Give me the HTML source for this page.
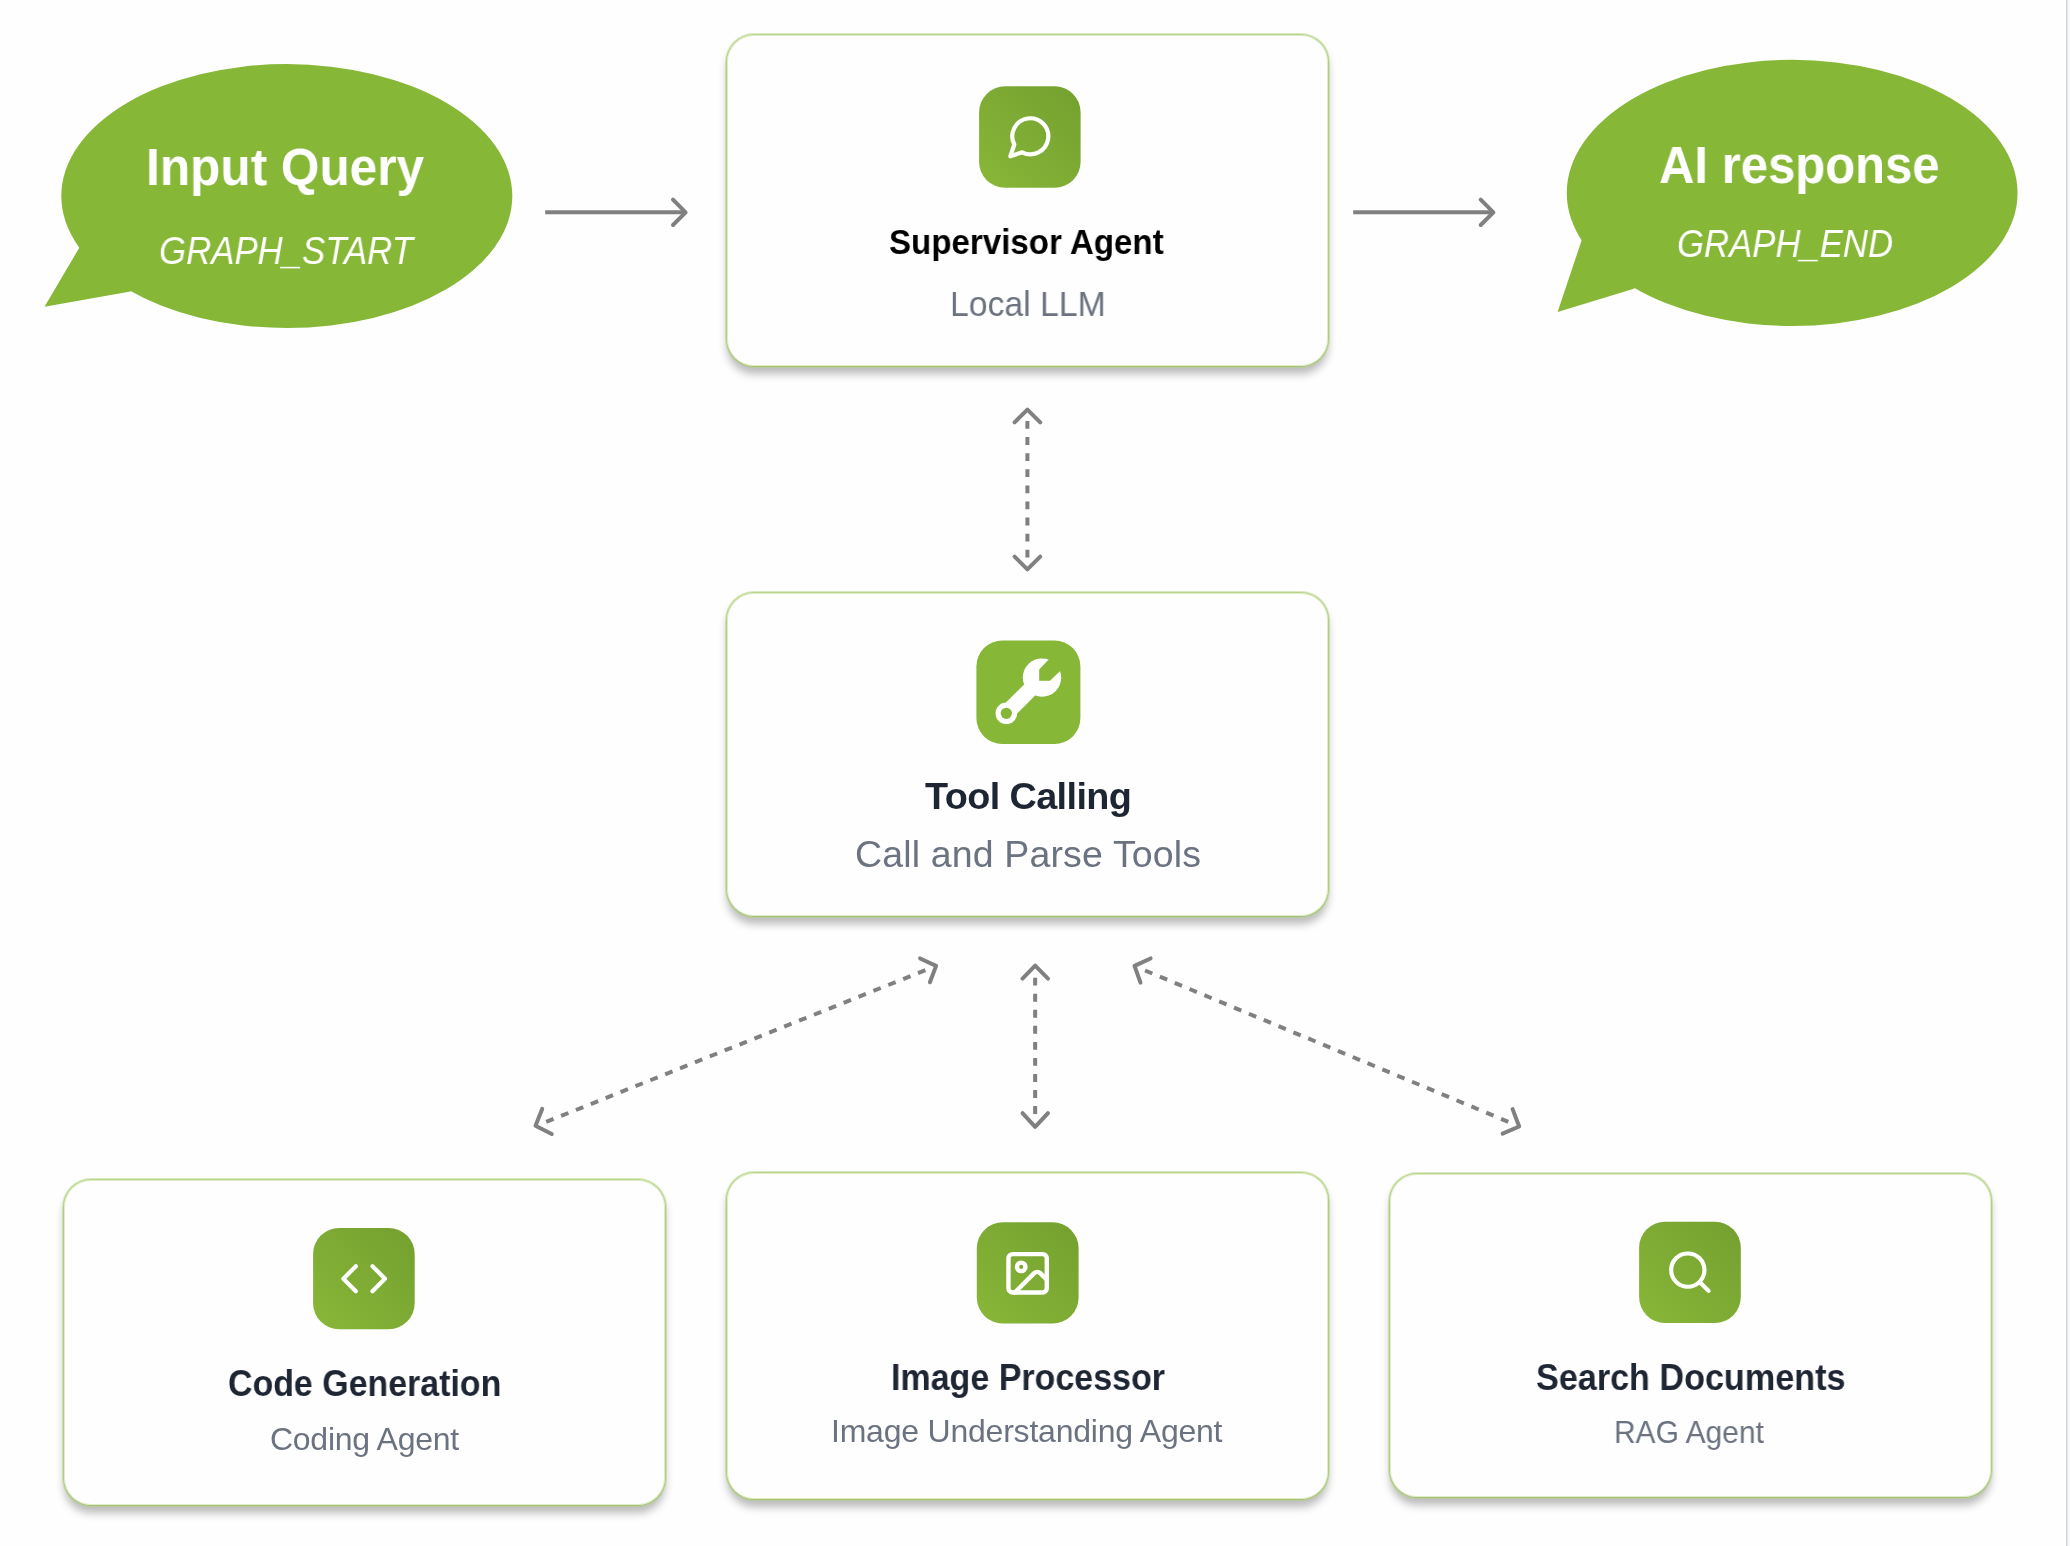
<!DOCTYPE html>
<html><head><meta charset="utf-8">
<style>
html,body{margin:0;padding:0;}
body{width:2070px;height:1546px;position:relative;overflow:hidden;background:#fefefe;font-family:"Liberation Sans",sans-serif;}
.card{position:absolute;box-sizing:border-box;background:#fefefe;background-clip:padding-box;border:1px solid rgba(120,180,40,0.35);border-radius:28px;box-shadow:0 0 0 1px rgba(186,214,132,0.5),inset 0 0 0 1px rgba(186,214,132,0.45);}
.card::before{content:"";position:absolute;left:0;top:0;right:0;bottom:0;border-radius:27px;box-shadow:0 7.5px 8px rgba(0,0,0,0.27);z-index:-1;}
.t{position:absolute;white-space:nowrap;line-height:1;will-change:transform;}
.title{font-weight:bold;color:#1e2533;}
.sub{color:#6b7280;}
svg{position:absolute;left:0;top:0;}
#edge{position:absolute;left:2066px;top:0;width:1px;height:1546px;background:#d3d4d1;}
#edge2{position:absolute;left:2067px;top:0;width:3px;height:1546px;background:#f8f9fb;box-shadow:inset 1px 0 0 #e5e6e6;}
</style></head>
<body>
<svg width="2070" height="1546" viewBox="0 0 2070 1546">
  <path fill="#86b737" fill-rule="nonzero" d="M61.30 196.05 A225.5 131.95 0 1 0 512.30 196.05 A225.5 131.95 0 1 0 61.30 196.05 Z M79.3 247.7 L44.5 306.8 L130.4 291.5 L160 250 Z"/>
  <path fill="#86b737" fill-rule="nonzero" d="M1566.75 192.90 A225.4 133.07 0 1 0 2017.55 192.90 A225.4 133.07 0 1 0 1566.75 192.90 Z M1581.6 240.4 L1557.6 312.1 L1633.8 288.7 L1660 250 Z"/>
  <g stroke="#808080" stroke-width="4" fill="none" stroke-linecap="round" stroke-linejoin="round">
    <line x1="545.2" y1="212.3" x2="685" y2="212.3" stroke-linecap="butt"/>
    <polyline points="673,199.6 685.6,212.3 673,225"/>
    <line x1="1353.2" y1="212.3" x2="1493" y2="212.3" stroke-linecap="butt"/>
    <polyline points="1480.7,199.6 1493.4,212.3 1480.7,225"/>
  </g>
  <g stroke="#808080" stroke-width="4" fill="none" stroke-linecap="round" stroke-linejoin="round">
    <path d="M1027.4 421 V558" stroke-dasharray="7.8 8.3" stroke-linecap="butt"/>
    <polyline points="1014.6,422.3 1027.4,409.6 1040.2,422.3"/>
    <polyline points="1014.6,556.6 1027.4,569.4 1040.2,556.6"/>
    <path d="M1035.15 977.7 V1114.4" stroke-dasharray="7.9 8.15" stroke-linecap="butt"/>
    <polyline points="1022.5,978.6 1035.15,965.7 1048,978.6"/>
    <polyline points="1022.5,1113.1 1035.15,1126.8 1048,1113.1"/>
    <path d="M546.2 1121.9 L925.5 970.1" stroke-dasharray="7.9 8.12" stroke-linecap="butt"/>
    <polyline points="920.1,958.45 936.1,965.9 929.9,982.3"/>
    <polyline points="542.2,1108.9 535.5,1125.8 551.7,1134"/>
    <path d="M1145.05 970.48 L1508.25 1121.8" stroke-dasharray="7.9 8.17" stroke-linecap="butt"/>
    <polyline points="1150.6,958.45 1134.5,965.9 1140.5,982.6"/>
    <polyline points="1512.6,1109.1 1519.2,1126.5 1502.6,1133.6"/>
  </g>
</svg>

<div class="card" style="left:726px;top:34px;width:603px;height:333px;"></div>

<div class="card" style="left:726px;top:592px;width:603px;height:325px;"></div>

<div class="card" style="left:63px;top:1179px;width:603px;height:327px;"></div>

<div class="card" style="left:726px;top:1172px;width:603px;height:328px;"></div>

<div class="card" style="left:1389px;top:1173px;width:603px;height:325px;"></div>

<svg width="2070" height="1546" viewBox="0 0 2070 1546">
  <defs><linearGradient id="tg" x1="0" y1="1" x2="1" y2="0"><stop offset="0" stop-color="#88b738"/><stop offset="1" stop-color="#74a02f"/></linearGradient></defs>
  <rect x="979.1" y="86.3" width="101.5" height="101.5" rx="26" ry="26" fill="url(#tg)"/>
  <rect x="976.4" y="640.5" width="104" height="103.5" rx="26" ry="26" fill="#86b737"/>
  <rect x="313.1" y="1227.9" width="101.6" height="101.3" rx="26" ry="26" fill="url(#tg)"/>
  <rect x="976.8" y="1222.3" width="101.8" height="101.2" rx="26" ry="26" fill="url(#tg)"/>
  <rect x="1639.1" y="1221.7" width="101.7" height="101.3" rx="26" ry="26" fill="url(#tg)"/>
  <g transform="translate(1006.3,112.3) scale(2.0)" fill="none" stroke="#ffffff" stroke-width="2.1" stroke-linecap="round" stroke-linejoin="round"><path d="M7.9 20A9 9 0 1 0 4 16.1L2 22Z"/></g>
<g transform="translate(339.2,1253.74) scale(2.08)" fill="none" stroke="#ffffff" stroke-width="2" stroke-linecap="round" stroke-linejoin="round"><polyline points="16 18 22 12 16 6"/><polyline points="8 6 2 12 8 18"/></g>
<g transform="translate(1002.06,1247.71) scale(2.13)" fill="none" stroke="#ffffff" stroke-width="2.07" stroke-linecap="round" stroke-linejoin="round"><rect width="18" height="18" x="3" y="3" rx="2" ry="2"/><circle cx="9" cy="9" r="2"/><path d="m21 15-3.086-3.086a2 2 0 0 0-2.828 0L6 21"/></g>
<g transform="translate(1664.92,1247.22) scale(2.08)" fill="none" stroke="#ffffff" stroke-width="2" stroke-linecap="round" stroke-linejoin="round"><circle cx="11" cy="11" r="8"/><path d="m21 21-4.3-4.3"/></g>
<g transform="translate(976,640)"><g fill="#ffffff"><circle cx="66" cy="37.6" r="19.2"/><polygon points="48.1,44.4 59.2,55.5 41.4,73.3 29.9,62.6"/><circle cx="30.3" cy="73.3" r="10.8"/></g><g fill="#86b737"><polygon points="72.7,19.5 63.2,29.6 63.2,40.7 74,40.7 84.1,30.9 95,20 80,8"/><circle cx="30.3" cy="73.3" r="5.6"/></g></g>
</svg>
<div class="t" id="t1" style="left:146.30px;top:142.40px;font-size:51px;letter-spacing:0.000px;transform:scaleX(0.9719);transform-origin:0 0;font-weight:bold;color:#fff;">Input Query</div>
<div class="t" id="t2" style="left:158.70px;top:232.40px;font-size:38.5px;letter-spacing:0.000px;transform:scaleX(0.9036);transform-origin:0 0;font-style:italic;color:#fff;">GRAPH_START</div>
<div class="t" id="t3" style="left:1658.60px;top:140.30px;font-size:51px;letter-spacing:0.000px;transform:scaleX(0.9611);transform-origin:0 0;font-weight:bold;color:#fff;">AI response</div>
<div class="t" id="t4" style="left:1676.50px;top:224.70px;font-size:38px;letter-spacing:0.000px;transform:scaleX(0.9137);transform-origin:0 0;font-style:italic;color:#fff;">GRAPH_END</div>
<div class="t" id="t5" style="left:889.00px;top:225.38px;font-size:34.6px;letter-spacing:0.000px;transform:scaleX(0.9570);transform-origin:0 0;font-weight:bold;color:#000;">Supervisor Agent</div>
<div class="t" id="t6" style="left:949.50px;top:287.38px;font-size:34.6px;letter-spacing:0.000px;transform:scaleX(0.9760);transform-origin:0 0;color:#6b7280;">Local LLM</div>
<div class="t" id="t7" style="left:925.10px;top:777.74px;font-size:37.8px;letter-spacing:-0.600px;font-weight:bold;color:#1e2533;">Tool Calling</div>
<div class="t" id="t8" style="left:855.10px;top:836.20px;font-size:37.5px;letter-spacing:0.147px;color:#6b7280;">Call and Parse Tools</div>
<div class="t" id="t9" style="left:227.60px;top:1366.06px;font-size:36.2px;letter-spacing:0.000px;transform:scaleX(0.9375);transform-origin:0 0;font-weight:bold;color:#1e2533;">Code Generation</div>
<div class="t" id="t10" style="left:269.60px;top:1422.90px;font-size:32px;letter-spacing:-0.273px;color:#6b7280;">Coding Agent</div>
<div class="t" id="t11" style="left:890.60px;top:1359.86px;font-size:36.2px;letter-spacing:0.000px;transform:scaleX(0.9396);transform-origin:0 0;font-weight:bold;color:#1e2533;">Image Processor</div>
<div class="t" id="t12" style="left:830.90px;top:1414.60px;font-size:32px;letter-spacing:-0.217px;color:#6b7280;">Image Understanding Agent</div>
<div class="t" id="t13" style="left:1535.60px;top:1360.26px;font-size:36.2px;letter-spacing:0.000px;transform:scaleX(0.9439);transform-origin:0 0;font-weight:bold;color:#1e2533;">Search Documents</div>
<div class="t" id="t14" style="left:1614.40px;top:1416.30px;font-size:32px;letter-spacing:0.000px;transform:scaleX(0.9361);transform-origin:0 0;color:#6b7280;">RAG Agent</div>
<div id="edge"></div><div id="edge2"></div>
</body></html>
